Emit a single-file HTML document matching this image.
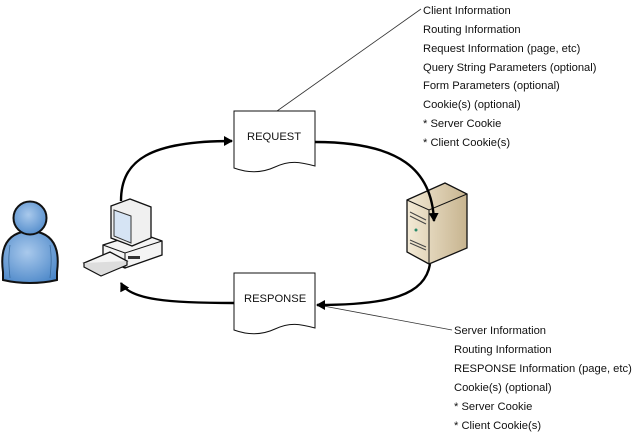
<!DOCTYPE html>
<html><head><meta charset="utf-8"><style>
html,body{margin:0;padding:0;background:#fff;}
svg{display:block;}
text{font-family:"Liberation Sans",sans-serif;font-size:11.2px;fill:#111;}
</style></head><body>
<svg width="640" height="433" viewBox="0 0 640 433" xmlns="http://www.w3.org/2000/svg">
<defs>
<radialGradient id="pg" cx="0.45" cy="0.4" r="0.7"><stop offset="0" stop-color="#a9c9ec"/><stop offset="1" stop-color="#4a86c8"/></radialGradient>
<linearGradient id="sv" x1="0" x2="1"><stop offset="0" stop-color="#f3ead6"/><stop offset="1" stop-color="#c7b48f"/></linearGradient>
<marker id="ah" markerWidth="10" markerHeight="10" refX="8" refY="5" orient="auto" markerUnits="userSpaceOnUse"><path d="M0,0 L9,5 L0,10 z" fill="#000"/></marker>
</defs>
<line x1="277" y1="111" x2="421" y2="9" stroke="#333" stroke-width="0.8"/>
<line x1="318" y1="305" x2="452" y2="330" stroke="#333" stroke-width="0.8"/>
<!-- person -->
<path d="M3,272 C0,250 6,236 22,232 L38,232 C54,236 60,250 57,272 L57,280 C40,284 20,284 3,280 Z" fill="url(#pg)" stroke="#111" stroke-width="2"/>
<path d="M10,245 C8,258 9,268 10,278 M50,245 C52,258 51,268 50,278" stroke="#3a6a9a" stroke-width="0.8" fill="none"/>
<circle cx="30" cy="218" r="16.5" fill="url(#pg)" stroke="#111" stroke-width="2"/>
<!-- computer -->
<path d="M103,245 L140,233 L162,241 L162,255 L125,268 L103,259 Z" fill="#f4f4f4" stroke="#111" stroke-width="1.3"/>
<path d="M103,245 L125,253 L162,241 M125,253 L125,268" fill="none" stroke="#111" stroke-width="1"/>
<rect x="128" y="256" width="12" height="3" fill="#333"/>
<path d="M111,206 L130,199 L151,207 L151,238 L132,246 L111,238 Z" fill="#f0f0f0" stroke="#111" stroke-width="1.3"/>
<path d="M114,210 L131,216 L131,243 L114,236 Z" fill="#d6e4f4" stroke="#333" stroke-width="1"/>
<path d="M84,263 L110,252 L127,261 L101,272 Z" fill="#f4f4f4" stroke="#111" stroke-width="1.3"/>
<path d="M84,263 L84,267 L101,276 L127,265 L127,261" fill="#ddd" stroke="#111" stroke-width="1.2"/>
<!-- server -->
<path d="M407,200 L445,183 L467,194 L467,248 L429,264 L407,252 Z" fill="url(#sv)" stroke="#111" stroke-width="1.3"/>
<path d="M407,200 L429,210 L467,194 M429,210 L429,264" fill="none" stroke="#111" stroke-width="1"/>
<path d="M410,212 L426,220 M410,216 L426,224 M410,240 L426,247 M410,243 L426,250" stroke="#444" stroke-width="1"/>
<circle cx="416" cy="230" r="1.5" fill="#2a8a6a"/>
<!-- documents -->
<path d="M234,111 L315,111 L315,166 C300,162 290,160 275,167 C260,174 245,172 234,168 Z" fill="#fff" stroke="#111" stroke-width="1"/>
<path d="M234,273 L315,273 L315,328 C300,324 290,322 275,329 C260,336 245,334 234,330 Z" fill="#fff" stroke="#111" stroke-width="1"/>
<text x="247" y="140">REQUEST</text>
<text x="244" y="302">RESPONSE</text>
<g fill="none" stroke="#000" stroke-width="2.4" marker-end="url(#ah)">
<path d="M121,201 C121,160 150,141 232,141"/>
<path d="M315,142 C400,142 432,170 434,221"/>
<path d="M430,264 C425,295 390,305 317,305"/>
<path d="M234,303 C170,303 130,300 121,283"/>
</g>
<g>
<text x="423" y="14">Client Information</text>
<text x="423" y="33">Routing Information</text>
<text x="423" y="52">Request Information (page, etc)</text>
<text x="423" y="71">Query String Parameters (optional)</text>
<text x="423" y="89">Form Parameters (optional)</text>
<text x="423" y="108">Cookie(s) (optional)</text>
<text x="423" y="127">* Server Cookie</text>
<text x="423" y="146">* Client Cookie(s)</text>
<text x="454" y="334">Server Information</text>
<text x="454" y="353">Routing Information</text>
<text x="454" y="372">RESPONSE Information (page, etc)</text>
<text x="454" y="391">Cookie(s) (optional)</text>
<text x="454" y="410">* Server Cookie</text>
<text x="454" y="429">* Client Cookie(s)</text>
</g>
</svg>
</body></html>
